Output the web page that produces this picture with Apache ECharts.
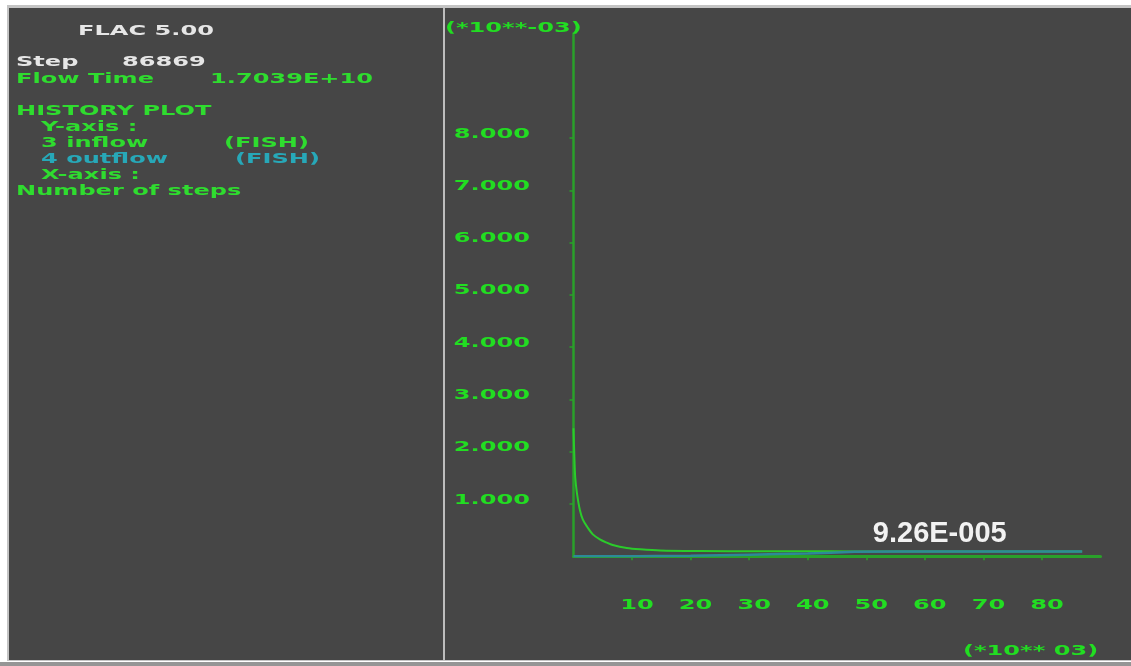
<!DOCTYPE html>
<html>
<head>
<meta charset="utf-8">
<script src="https://cdn.jsdelivr.net/npm/echarts@6/dist/echarts.min.js"></script>
<style>
  html, body { margin: 0; padding: 0; background: #ffffff; }
  #chart { width: 1131px; height: 666px; }
</style>
</head>
<body>
<div id="chart"></div>
<script>
// Axis ticks and their labels (x in 10^3 steps, y in 10^-3 units)
const yTicks = [1, 2, 3, 4, 5, 6, 7, 8];
const yTickLabels = ['1.000', '2.000', '3.000', '4.000', '5.000', '6.000', '7.000', '8.000'];
const xTicks = [10, 20, 30, 40, 50, 60, 70, 80];
const xTickLabels = ['10', '20', '30', '40', '50', '60', '70', '80'];

// History 3: inflow (FISH)
const inflowSteps  = [0, 0.15, 0.3, 0.6, 1.1, 1.6, 2.3, 3.3, 4.5, 5.7, 6.7, 9.1, 11.4, 14.8, 21.6, 31.8, 40, 48, 60, 70, 80, 86.869];
const inflowValues = [2.45, 1.9, 1.5, 1.2, 0.88, 0.7, 0.57, 0.42, 0.325, 0.26, 0.216, 0.16, 0.134, 0.11, 0.1, 0.096, 0.095, 0.094, 0.0935, 0.093, 0.0928, 0.0926];

// History 4: outflow (FISH)
const outflowSteps  = [0, 11, 14, 20, 25, 30, 35, 40, 44, 48, 55, 65, 75, 86.869];
const outflowValues = [0, 0, 0.006, 0.012, 0.022, 0.032, 0.042, 0.052, 0.07, 0.088, 0.091, 0.092, 0.0924, 0.0926];

const finalValueText = '9.26E-005';

// Header block of the history plot
const headerLines = [
  { text: 'FLAC 5.00', x: 78, y: 31, color: 'white' },
  { text: 'Step', x: 16, y: 62, color: 'white' },
  { text: '86869', x: 122, y: 62, color: 'white' },
  { text: 'Flow Time', x: 16, y: 79, color: 'green' },
  { text: '1.7039E+10', x: 210, y: 79, color: 'green' },
  { text: 'HISTORY PLOT', x: 16, y: 111, color: 'green' },
  { text: 'Y-axis :', x: 41, y: 127, color: 'green' },
  { text: '3 inflow', x: 41, y: 143, color: 'green' },
  { text: '(FISH)', x: 224, y: 143, color: 'green' },
  { text: '4 outflow', x: 41, y: 159, color: 'teal' },
  { text: '(FISH)', x: 235, y: 159, color: 'teal' },
  { text: 'X-axis :', x: 41, y: 175, color: 'green' },
  { text: 'Number of steps', x: 16, y: 191, color: 'green' }
];

const COLORS = {
  white: '#e6e6e6',
  green: '#2fdc2f',
  teal: '#27a8b8',
  axis: '#2aa02a',
  tickText: '#22dd22',
  inflow: '#2bcb2b',
  outflow: '#2d8a98',
  panel: '#464646'
};
const TEXT_FONT = 'bold 14px "DejaVu Sans"';
const STRETCH = 1.72;

const chart = echarts.init(document.getElementById('chart'), null, { renderer: 'canvas' });

function pairs(xs, ys) { return xs.map((x, i) => [x, ys[i]]); }

const option = {
  animation: false,
  grid: { left: 573.5, right: 30.5, top: 33.4, bottom: 109.7, containLabel: false },
  xAxis: {
    type: 'value', min: 0, max: 90,
    axisLine: { show: true, onZero: false, lineStyle: { color: COLORS.axis, width: 3 } },
    axisTick: { show: true, inside: false, length: 4, customValues: xTicks, lineStyle: { color: COLORS.axis, width: 1.5 } },
    axisLabel: { show: false },
    splitLine: { show: false }
  },
  yAxis: {
    type: 'value', min: 0, max: 10,
    axisLine: { show: true, onZero: false, lineStyle: { color: COLORS.axis, width: 2.5 } },
    axisTick: { show: true, inside: false, length: 4, customValues: yTicks, lineStyle: { color: COLORS.axis, width: 1.5 } },
    axisLabel: { show: false },
    splitLine: { show: false }
  },
  series: [
    {
      name: '3 inflow', type: 'line', data: pairs(inflowSteps, inflowValues),
      showSymbol: false, smooth: 0.3, z: 3,
      lineStyle: { color: COLORS.inflow, width: 2 }
    },
    {
      name: '4 outflow', type: 'line', data: pairs(outflowSteps, outflowValues),
      showSymbol: false, smooth: false, z: 4,
      lineStyle: { color: COLORS.outflow, width: 2.5 },
      markPoint: {
        silent: true, symbol: 'circle', symbolSize: 1,
        itemStyle: { color: 'rgba(0,0,0,0)' },
        data: [{
          coord: [outflowSteps[outflowSteps.length - 1], outflowValues[outflowValues.length - 1]],
          label: {
            show: true, formatter: finalValueText, position: 'left', distance: 75, offset: [0, -17],
            color: '#f2f2f2', fontFamily: '"Liberation Sans", Arial, sans-serif',
            fontWeight: 'bold', fontSize: 29
          }
        }]
      }
    }
  ]
};
chart.setOption(option);

// Frame, divider and stretched text drawn as graphic elements
function stretchedText(text, x, y, fill, align) {
  return {
    type: 'text', x: x, y: y, scaleX: STRETCH, z: 100, silent: true,
    style: { text: text, fill: fill, font: TEXT_FONT, textAlign: align || 'left', textVerticalAlign: 'middle' }
  };
}

const graphics = [
  { type: 'rect', z: -100, silent: true, shape: { x: 7, y: 5, width: 1124, height: 656 }, style: { fill: '#c4c4c4' } },
  { type: 'rect', z: -99, silent: true, shape: { x: 9, y: 8, width: 1122, height: 652 }, style: { fill: COLORS.panel } },
  { type: 'rect', z: -99, silent: true, shape: { x: 0, y: 662, width: 1131, height: 4 }, style: { fill: '#959595' } },
  { type: 'rect', z: -98, silent: true, shape: { x: 443, y: 8, width: 2, height: 652 }, style: { fill: '#bdbdbd' } }
];

headerLines.forEach(l => graphics.push(stretchedText(l.text, l.x, l.y, COLORS[l.color], 'left')));

// Axis multipliers
graphics.push(stretchedText('(*10**-03)', 445, 28, COLORS.tickText, 'left'));
graphics.push(stretchedText('(*10** 03)', 963, 651, COLORS.tickText, 'left'));

// Tick labels placed from the axis scales
yTicks.forEach((v, i) => {
  const p = chart.convertToPixel({ gridIndex: 0 }, [0, v]);
  graphics.push(stretchedText(yTickLabels[i], 530, p[1] - 4, COLORS.tickText, 'right'));
});
xTicks.forEach((v, i) => {
  const p = chart.convertToPixel({ gridIndex: 0 }, [v, 0]);
  graphics.push(stretchedText(xTickLabels[i], p[0] + 5, 605, COLORS.tickText, 'center'));
});

chart.setOption({ graphic: { elements: graphics } });
</script>
</body>
</html>
